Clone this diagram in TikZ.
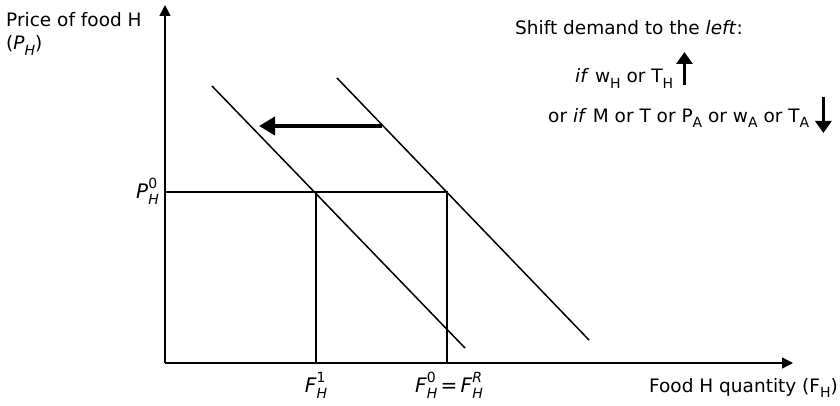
\documentclass[tikz,border=0pt]{standalone}
\usepackage{fontspec}
\setmainfont{DejaVu Sans}
\usetikzlibrary{arrows.meta,positioning,calc}
\newcommand{\sm}{\fontsize{14}{15}\selectfont}
\newcommand{\supsub}[3]{#1\makebox[0pt][l]{\raisebox{0.5em}{\sm #3}}\raisebox{-0.3em}{\sm #2}}
\newcommand{\sub}[2]{#1\raisebox{-0.3em}{\sm #2}}

\begin{document}
\begin{tikzpicture}[
  x=1pt, y=1pt,
  lbl/.style={inner sep=0pt, font=\fontsize{18.5}{22}\selectfont},
  mlbl/.style={inner sep=0pt, font=\fontsize{20}{24}\selectfont},
  axis/.style={line width=1.5pt, -{Triangle[length=11pt,width=11pt]}},
  curve/.style={line width=1.5pt},
  guide/.style={line width=1.5pt},
  shiftarr/.style={line width=3.8pt, -{Triangle[length=16pt,width=18pt]}},
  updown/.style={line width=3.2pt, -{Triangle[length=12pt,width=16pt]}},
]
\useasboundingbox (0,0) rectangle (840,405);
% axes
\coordinate (O) at (165,42);
\coordinate (ytop) at (165,400);
\coordinate (xend) at (793,42);
\draw[axis] (O) -- (ytop);
\draw[axis] (O) -- (xend);
% demand curves
\coordinate (d1a) at (212,319);
\coordinate (d1b) at (465,57);
\coordinate (d0a) at (337,327);
\coordinate (d0b) at (589,65);
\draw[curve] (d1a) -- (d1b);
\draw[curve] (d0a) -- (d0b);
% price level and quantities
\coordinate (p0) at (165,213);
\coordinate (e0) at (447,213);
\coordinate (e1) at (316,213);
\draw[guide] (p0) -- (e0) -- (e0 |- O);
\draw[guide] (e1) -- (e1 |- O);
% shift arrow
\coordinate (sfrom) at (382,279);
\coordinate (sto) at (259,279);
\draw[shiftarr] (sfrom) -- (sto);
% labels
\node[lbl, anchor=base west] (ylab) at (6,378) {Price of food H};
\node[lbl, anchor=base west] (ysym) at (6,355) {(\sub{\textit{P}}{\textit{H}})};
\node[mlbl, anchor=base east] (plab) at (159,207) {\supsub{\textit{P}}{\textit{H}}{0}};
\node[mlbl, anchor=base] (f1) at (316,13) {\supsub{\textit{F}}{\textit{H}}{1}};
\node[mlbl, anchor=base] (f0) at (449,13) {\supsub{\textit{F}}{\textit{H}}{0}\,=\,\supsub{\textit{F}}{\textit{H}}{\textit{R}}};
\node[lbl, anchor=base east] (xlab) at (838,13) {Food H quantity (\sub{F}{H})};
\node[lbl, anchor=base west] (shift) at (515,370) {Shift demand to the \textit{left}:};
\node[lbl, anchor=base west] (ifh) at (575,322) {\textit{if} \sub{w}{H} or \sub{T}{H}};
\node[lbl, anchor=base west] (ifa) at (548,283) {or \textit{if} M or T or \sub{P}{A} or \sub{w}{A} or \sub{T}{A}};
% up and down arrows
\coordinate (ua) at ($(ifh.base east)+(11,-2)$);
\coordinate (ub) at ($(ua)+(0,33)$);
\draw[updown] (ua) -- (ub);
\coordinate (da) at ($(ifa.base east)+(14,25)$);
\coordinate (db) at ($(da)+(0,-36)$);
\draw[updown] (da) -- (db);
\end{tikzpicture}
\end{document}
